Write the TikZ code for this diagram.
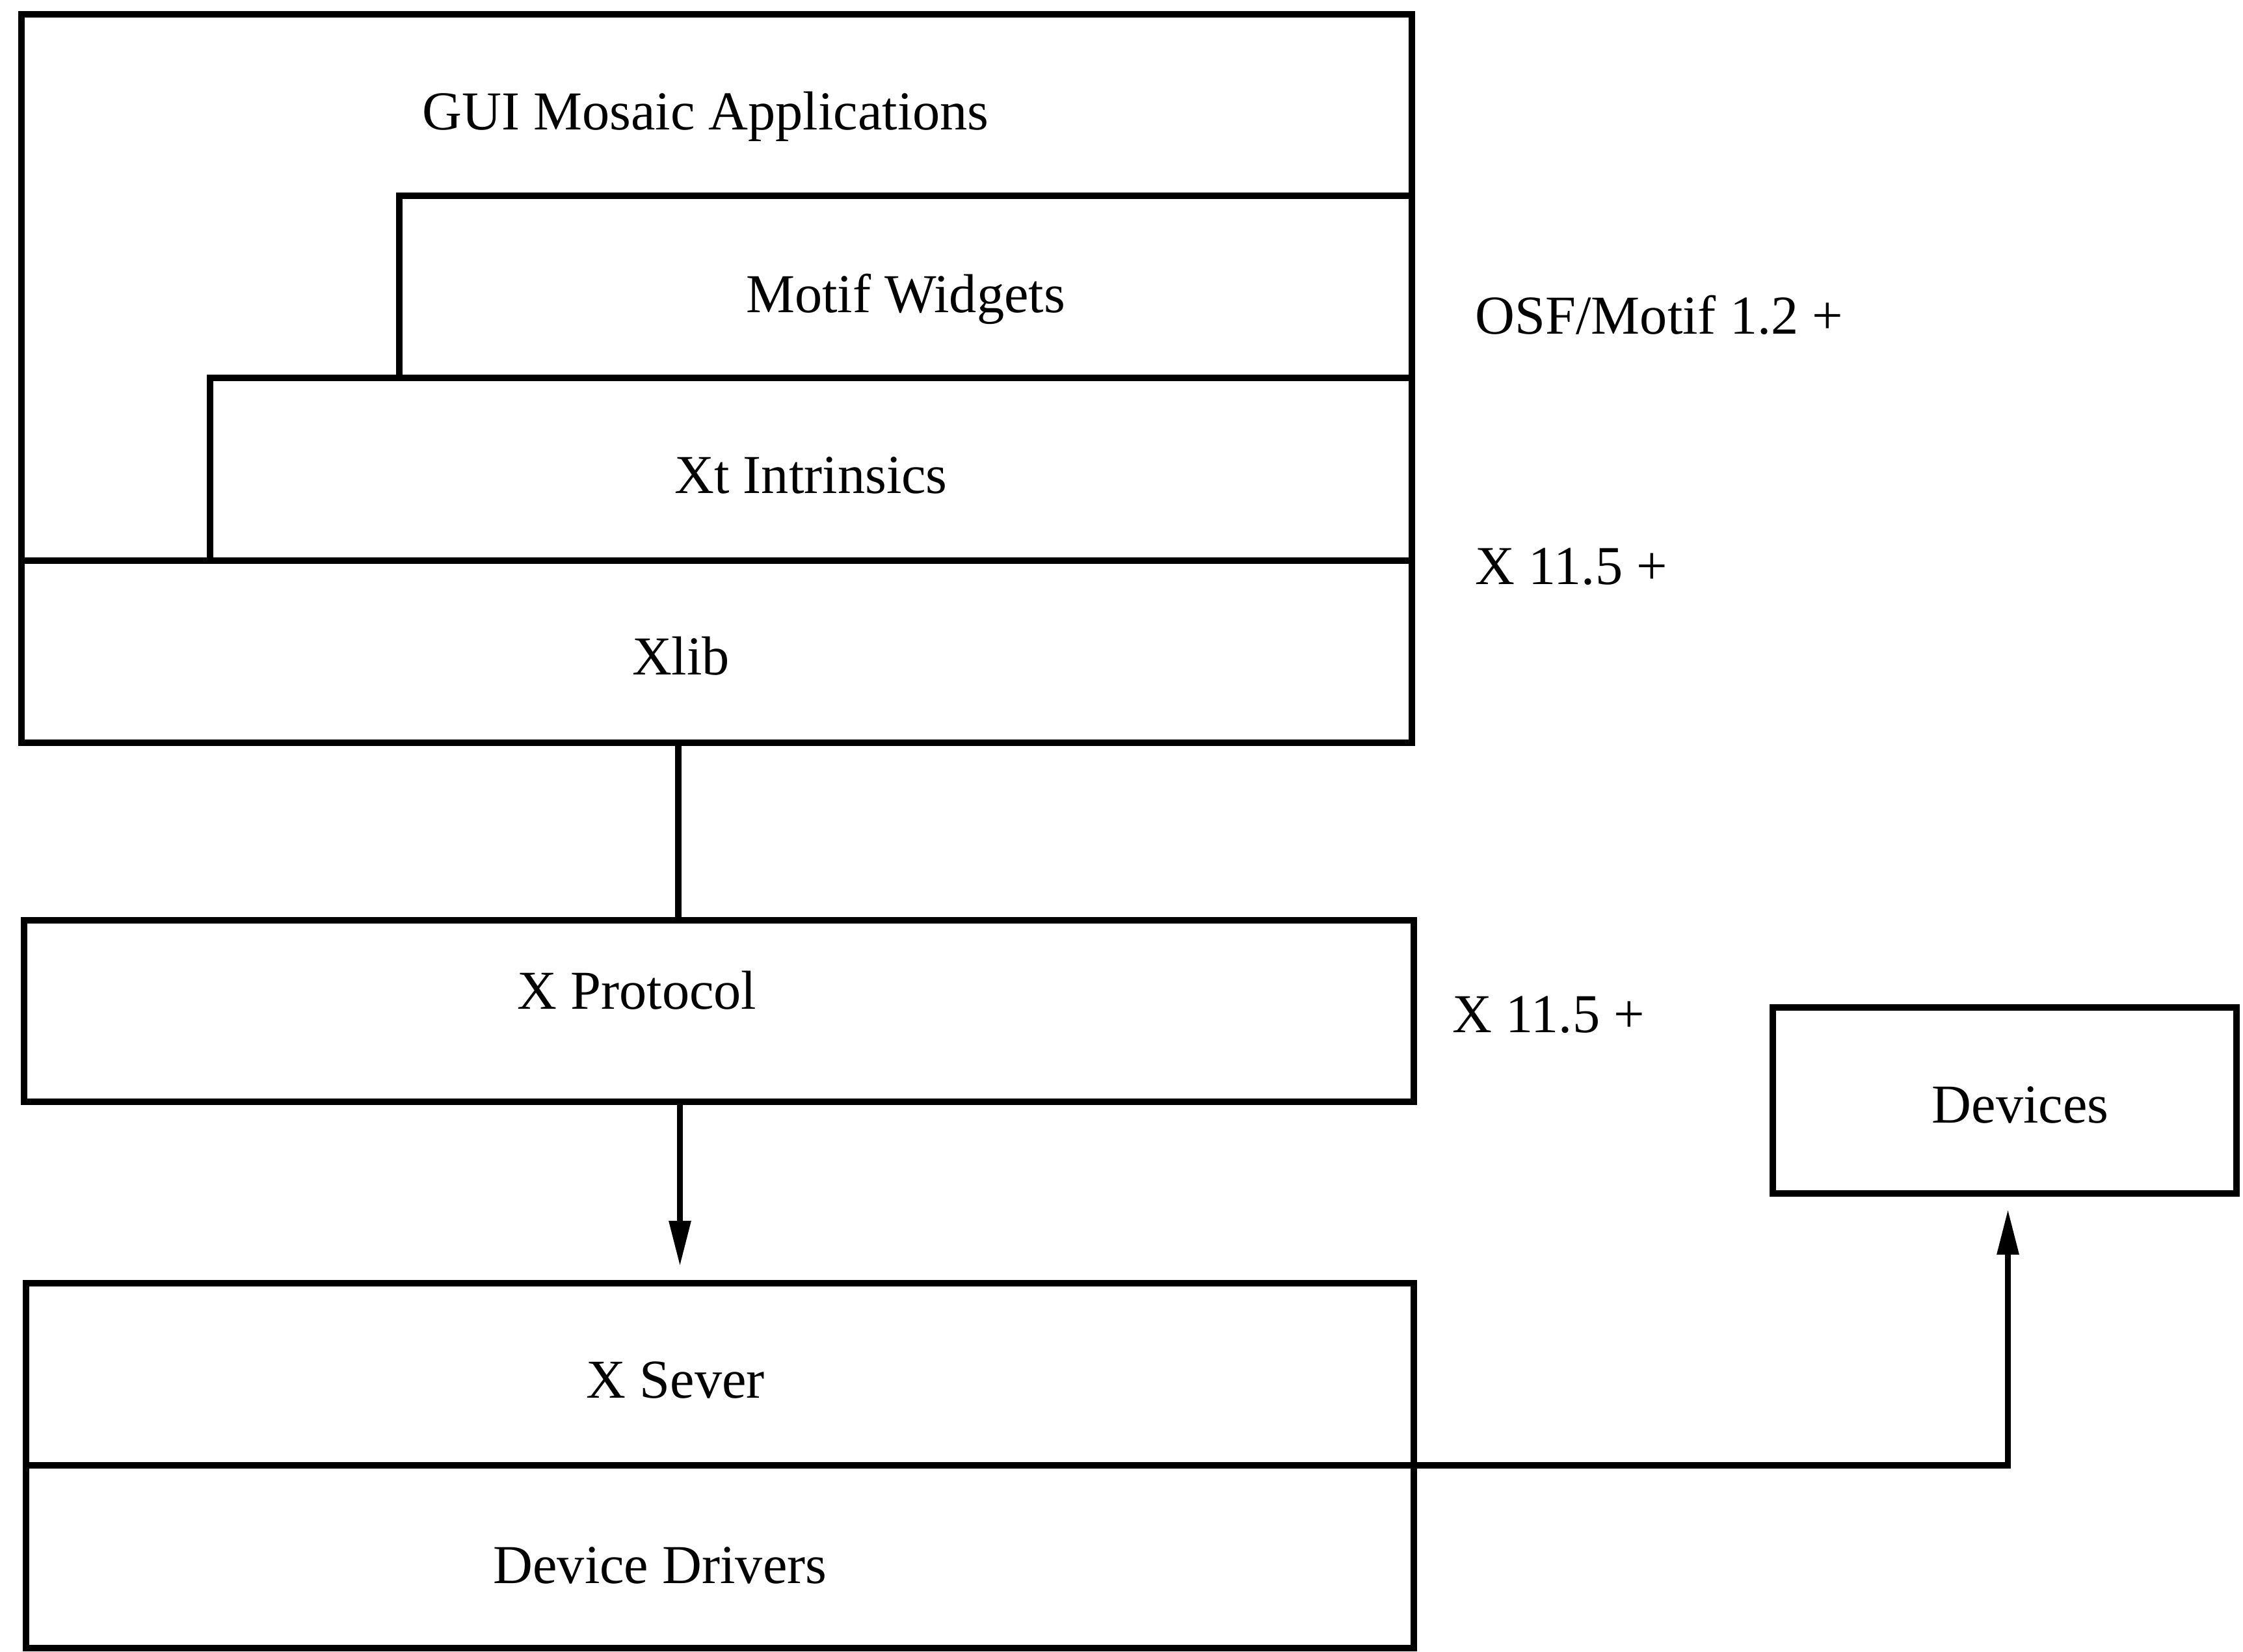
\documentclass[tikz,border=0pt]{standalone}
\usepackage{fontspec}
\setmainfont{Liberation Serif}
\usetikzlibrary{positioning,arrows.meta}

\begin{document}
\begin{tikzpicture}[
  font=\fontsize{24}{28}\selectfont,
  box/.style={rectangle, draw, line width=2.6pt, inner sep=0pt, outer sep=0pt, align=center},
  ver/.style={anchor=west, inner sep=0pt},
  link/.style={line width=2.6pt},
  arrow/.style={-{Triangle[length=0.70cm, width=0.32cm]}, line width=2.6pt}
]
\useasboundingbox (0,0) rectangle (34.49,-25.39);

% client side stack
\node[box, anchor=north west, minimum width=21.38cm, minimum height=8.40cm,
      label={[anchor=center, xshift=-0.17cm, yshift=-1.57cm]north:GUI Mosaic Applications}]
      (apps) at (0.33,-0.22) {};
\node[box, anchor=north west, minimum width=15.57cm, minimum height=2.80cm,
      label={[yshift=-0.19cm]center:Motif Widgets}] (motif) at (6.14,-3.01) {};
\node[box, anchor=north west, minimum width=18.48cm, minimum height=2.81cm,
      label={[yshift=-0.09cm]center:Xt Intrinsics}] (xt) at (3.23,-5.81) {};
\node[box, below=0pt of apps, minimum width=21.38cm, minimum height=2.80cm,
      label={[xshift=-0.55cm, yshift=-0.07cm]center:Xlib}] (xlib) {};

\node[box, anchor=north west, minimum width=21.37cm, minimum height=2.79cm,
      label={[xshift=-1.26cm, yshift=0.32cm]center:X Protocol}]
      (proto) at (0.37,-14.15) {};

% server side
\node[box, anchor=north west, minimum width=21.34cm, minimum height=2.80cm,
      label={[xshift=-0.68cm, yshift=-0.09cm]center:X Sever}] (xsrv) at (0.40,-19.73) {};
\node[box, below=0pt of xsrv, minimum width=21.34cm, minimum height=2.81cm,
      label={[xshift=-0.92cm, yshift=-0.13cm]center:Device Drivers}] (drv) {};

\node[box, anchor=north west, minimum width=7.13cm, minimum height=2.86cm,
      label={[xshift=0.24cm, yshift=-0.07cm]center:Devices}] (dev) at (27.26,-15.49) {};

% versions
\node[ver] (vmotif) at (22.68,-4.84) {OSF/Motif 1.2 +};
\node[ver] (vxlib)  at (22.68,-8.71) {X 11.5 +};
\node[ver] (vproto) at (22.33,-15.60) {X 11.5 +};

\draw[link]  ([xshift=-0.59cm]xlib.south) -- ([xshift=-0.59cm]xlib.south |- proto.north);
\draw[arrow, shorten >=0.26cm] ([xshift=-0.60cm]proto.south) -- ([xshift=-0.60cm]proto.south |- xsrv.north);
\draw[arrow, shorten >=0.24cm] (xsrv.south east) -| ([xshift=0.05cm]dev.south);
\end{tikzpicture}
\end{document}
